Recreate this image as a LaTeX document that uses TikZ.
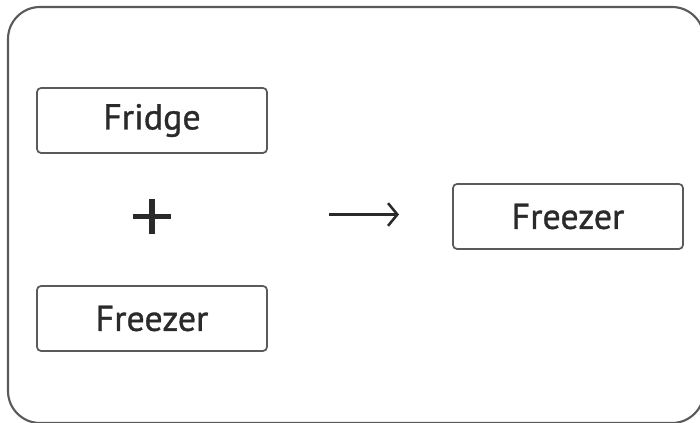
\documentclass[tikz,border=0pt]{standalone}
\usepackage{fontspec}
\newfontfamily\boxfont{PT Sans}[FakeBold=0.9]
\usetikzlibrary{arrows.meta}
\definecolor{edge}{HTML}{5A5A5A}
\definecolor{txt}{HTML}{2A2A2A}
\tikzset{
  itembox/.style={draw=edge, line width=1.3pt, rounded corners=3pt, minimum width=230*0.75pt, minimum height=65*0.75pt, inner sep=0pt, text=txt, font=\boxfont\fontsize{27}{32}\selectfont},
}
\begin{document}
\begin{tikzpicture}[x=0.75pt,y=-0.75pt]
\useasboundingbox (0,0) rectangle (700,423);
\begin{scope}
\clip (0,0) rectangle (700,423);
\draw[edge, line width=1.6pt, rounded corners=24pt] (8,7) rectangle (704,423);
\end{scope}
\node[itembox] (fridge) at (152,120.5) {Fridge};
\node[itembox] (freezerA) at (152,318.5) {Freezer};
\node[itembox] (freezerB) at (568,216.5) {Freezer};
\node[inner sep=0pt, minimum width=38*0.75pt, minimum height=34*0.75pt] (plus) at (152,216.5) {};
\draw[txt, line width=4.2pt] (plus.west) -- (plus.east);
\draw[txt, line width=4.2pt] (plus.north) -- (plus.south);
\coordinate (arrS) at (329,214.5);
\coordinate (arrE) at (399,214.5);
\draw[txt, line width=1.9pt, -{Straight Barb[length=7pt,width=17pt,line width=1.9pt]}] (arrS) -- (arrE);
\end{tikzpicture}
\end{document}
